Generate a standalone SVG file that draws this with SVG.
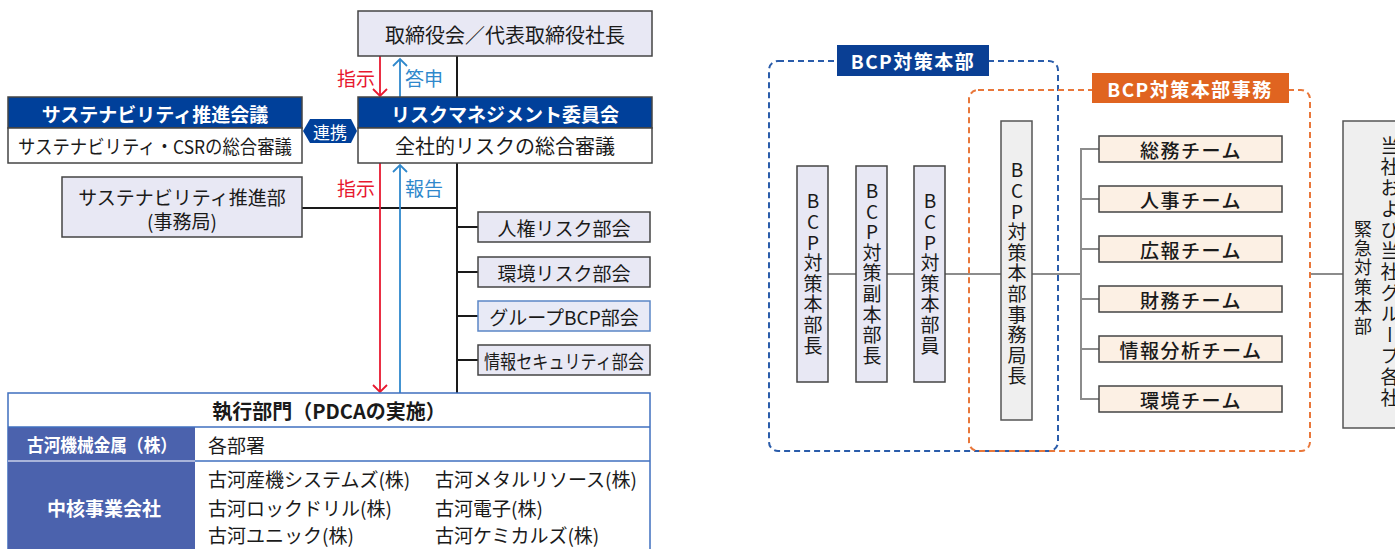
<svg xmlns="http://www.w3.org/2000/svg" width="1395" height="549" viewBox="0 0 1395 549">
<defs>
<style>
text{font-family:"Noto Sans CJK JP","Noto Sans",sans-serif;dominant-baseline:central;fill:#1a1a1a}
.c{text-anchor:middle}
.b{font-weight:bold}
.w{fill:#fff}
.box{fill:#e8e8f4;stroke:#444;stroke-width:1.5}
.wbox{fill:#fff;stroke:#444;stroke-width:1.5}
.hdr{fill:#00409a;stroke:#444;stroke-width:1.5}
.blk{stroke:#1a1a1a;stroke-width:2;fill:none}
.red{stroke:#e8182f;stroke-width:1.8;fill:none}
.blu{stroke:#2f88cc;stroke-width:1.8;fill:none}
.gl{stroke:#8c8c8c;stroke-width:2;fill:none}
.vbox{fill:#e8e8f4;stroke:#444;stroke-width:1.5}
.gbox{fill:#efefef;stroke:#555;stroke-width:1.5}
.team{fill:#fcf0e4;stroke:#444;stroke-width:1.5}
.vt{writing-mode:vertical-rl;text-orientation:upright;font-size:19px;letter-spacing:1.6px;text-anchor:middle}
.tt{font-size:19px;letter-spacing:1.5px;text-anchor:middle;font-weight:500}
</style>
<marker id="ar" markerWidth="16" markerHeight="16" refX="8" refY="8" orient="auto" markerUnits="userSpaceOnUse">
<path d="M1,1 L8,8 L1,15" fill="none" stroke="#e8182f" stroke-width="1.8"/>
</marker>
<marker id="ab" markerWidth="16" markerHeight="16" refX="8" refY="8" orient="auto" markerUnits="userSpaceOnUse">
<path d="M1,1 L8,8 L1,15" fill="none" stroke="#2f88cc" stroke-width="1.8"/>
</marker>
</defs>

<g id="connectors">
<line class="blk" x1="457" y1="56" x2="457" y2="97"/>
<line class="blk" x1="457" y1="163" x2="457" y2="393"/>
<line class="blk" x1="302" y1="208" x2="457" y2="208"/>
<line class="blk" x1="457" y1="227" x2="478" y2="227"/>
<line class="blk" x1="457" y1="272" x2="478" y2="272"/>
<line class="blk" x1="457" y1="316" x2="478" y2="316"/>
<line class="blk" x1="457" y1="360" x2="478" y2="360"/>
<line class="red" x1="380" y1="56" x2="380" y2="96" marker-end="url(#ar)"/>
<line class="blu" x1="400" y1="97" x2="400" y2="59" marker-end="url(#ab)"/>
<line class="red" x1="380" y1="163" x2="380" y2="392" marker-end="url(#ar)"/>
<line class="blu" x1="400" y1="393" x2="400" y2="165" marker-end="url(#ab)"/>
<text x="356" y="77" class="c" style="font-size:19px;fill:#e8182f">指示</text>
<text x="424" y="77" class="c" style="font-size:19px;fill:#2f88cc">答申</text>
<text x="356" y="187" class="c" style="font-size:19px;fill:#e8182f">指示</text>
<text x="424" y="187" class="c" style="font-size:19px;fill:#2f88cc">報告</text>
<line class="gl" x1="828" y1="274" x2="1081" y2="274"/>
<path class="gl" d="M1099,149 H1081 V399 H1099 M1081,199 H1099 M1081,249 H1099 M1081,299 H1099 M1081,349 H1099"/>
<line class="gl" x1="1310" y1="274" x2="1343" y2="274"/>
</g>

<g id="board">
<rect class="box" x="358" y="11" width="294" height="45"/>
<text x="505" y="34" class="c" style="font-size:20px">取締役会／代表取締役社長</text>
</g>

<g id="risk-committee">
<rect class="hdr" x="358" y="97" width="294" height="31"/>
<rect class="wbox" x="358" y="128" width="294" height="35"/>
<text x="505" y="113" class="c b w" style="font-size:19px">リスクマネジメント委員会</text>
<text x="505" y="145" class="c" style="font-size:20px">全社的リスクの総合審議</text>
</g>

<g id="renkei">
<polygon points="303,131 310,119 351,119 357,131 351,143 310,143" fill="#00409a"/>
<text x="330" y="131" class="c w" style="font-size:17px">連携</text>
</g>

<g id="sustainability-council">
<rect class="hdr" x="8" y="97" width="294" height="31"/>
<rect class="wbox" x="8" y="128" width="294" height="35"/>
<text x="155" y="113" class="c b w" style="font-size:19px">サステナビリティ推進会議</text>
<text x="155" y="145" class="c" style="font-size:19px" textLength="274" lengthAdjust="spacingAndGlyphs">サステナビリティ・CSRの総合審議</text>
</g>

<g id="sustainability-dept">
<rect class="box" x="62" y="177" width="240" height="60"/>
<text x="182" y="196" class="c" style="font-size:19px">サステナビリティ推進部</text>
<text x="182" y="220" class="c" style="font-size:19px">(事務局)</text>
</g>

<g id="sub-human">
<rect class="box" x="478" y="212" width="172" height="30"/>
<text x="564" y="227" class="c" style="font-size:19px">人権リスク部会</text>
</g>
<g id="sub-env">
<rect class="box" x="478" y="257" width="172" height="30"/>
<text x="564" y="272" class="c" style="font-size:19px">環境リスク部会</text>
</g>
<g id="sub-bcp">
<rect x="478" y="301" width="172" height="30" fill="#e8eaf6" stroke="#5b86c6" stroke-width="1.5"/>
<text x="564" y="316" class="c" style="font-size:19px">グループBCP部会</text>
</g>
<g id="sub-info">
<rect class="box" x="478" y="345" width="172" height="30"/>
<text x="564" y="360" class="c" style="font-size:19px" textLength="160" lengthAdjust="spacingAndGlyphs">情報セキュリティ部会</text>
</g>

<g id="execution-table">
<rect x="8" y="393" width="642" height="170" fill="#fff" stroke="#3f6fbf" stroke-width="1.5"/>
<rect x="8" y="427" width="187" height="130" fill="#4b62ad"/>
<line x1="8" y1="427" x2="650" y2="427" stroke="#3f6fbf" stroke-width="1.5"/>
<line x1="195" y1="461" x2="650" y2="461" stroke="#3f6fbf" stroke-width="1.5"/>
<line x1="8" y1="461" x2="195" y2="461" stroke="#c9d1ea" stroke-width="1.5"/>
<text x="329" y="410" class="c b" style="font-size:20px">執行部門（PDCAの実施）</text>
<text x="102" y="444" class="c b w" style="font-size:18px" textLength="150" lengthAdjust="spacingAndGlyphs">古河機械金属（株）</text>
<text x="104" y="507" class="c b w" style="font-size:19px">中核事業会社</text>
<text x="208" y="444" style="font-size:19px">各部署</text>
<text x="208" y="478" style="font-size:19px">古河産機システムズ(株)</text>
<text x="208" y="507" style="font-size:19px">古河ロックドリル(株)</text>
<text x="208" y="534" style="font-size:19px">古河ユニック(株)</text>
<text x="435" y="478" style="font-size:19px">古河メタルリソース(株)</text>
<text x="435" y="507" style="font-size:19px">古河電子(株)</text>
<text x="435" y="534" style="font-size:19px">古河ケミカルズ(株)</text>
</g>

<g id="bcp-hq-frame">
<rect x="769" y="61" width="289" height="390" rx="9" fill="none" stroke="#2a5caa" stroke-width="2" stroke-dasharray="6 4"/>
<rect x="837" y="45" width="152" height="31" fill="#0a3f94"/>
<text x="913" y="60" class="c b w" style="font-size:19px;letter-spacing:1.5px">BCP対策本部</text>
</g>

<g id="bcp-office-frame">
<rect x="969" y="90" width="341" height="361" rx="9" fill="none" stroke="#e9773a" stroke-width="2" stroke-dasharray="6 4"/>
<rect x="1092" y="73" width="197" height="30" fill="#e06420"/>
<text x="1190" y="88" class="c b w" style="font-size:19px;letter-spacing:1.5px">BCP対策本部事務</text>
</g>

<g id="v-chief">
<rect class="vbox" x="797" y="166" width="31" height="216"/>
<text x="813" y="274" class="vt">BCP対策本部長</text>
</g>
<g id="v-vice">
<rect class="vbox" x="856" y="166" width="31" height="216"/>
<text x="872" y="274" class="vt">BCP対策副本部長</text>
</g>
<g id="v-member">
<rect class="vbox" x="914" y="166" width="31" height="216"/>
<text x="930" y="274" class="vt">BCP対策本部員</text>
</g>
<g id="v-office-chief">
<rect class="gbox" x="1001" y="121" width="31" height="299"/>
<text x="1017" y="274" class="vt">BCP対策本部事務局長</text>
</g>

<g id="team-general"><rect class="team" x="1099" y="136" width="183" height="26"/><text x="1191" y="149" class="tt">総務チーム</text></g>
<g id="team-hr"><rect class="team" x="1099" y="186" width="183" height="26"/><text x="1191" y="199" class="tt">人事チーム</text></g>
<g id="team-pr"><rect class="team" x="1099" y="236" width="183" height="26"/><text x="1191" y="249" class="tt">広報チーム</text></g>
<g id="team-finance"><rect class="team" x="1099" y="286" width="183" height="26"/><text x="1191" y="299" class="tt">財務チーム</text></g>
<g id="team-intel"><rect class="team" x="1099" y="336" width="183" height="26"/><text x="1191" y="349" class="tt">情報分析チーム</text></g>
<g id="team-env"><rect class="team" x="1099" y="386" width="183" height="26"/><text x="1191" y="399" class="tt">環境チーム</text></g>

<g id="group-emergency">
<rect class="gbox" x="1343" y="121" width="70" height="307"/>
<text x="1363" y="278" style="writing-mode:vertical-rl;font-size:18px;letter-spacing:1.4px;text-anchor:middle">緊急対策本部</text>
<text x="1390" y="273" style="writing-mode:vertical-rl;font-size:19px;letter-spacing:2px;text-anchor:middle">当社および当社グループ各社</text>
</g>
</svg>
